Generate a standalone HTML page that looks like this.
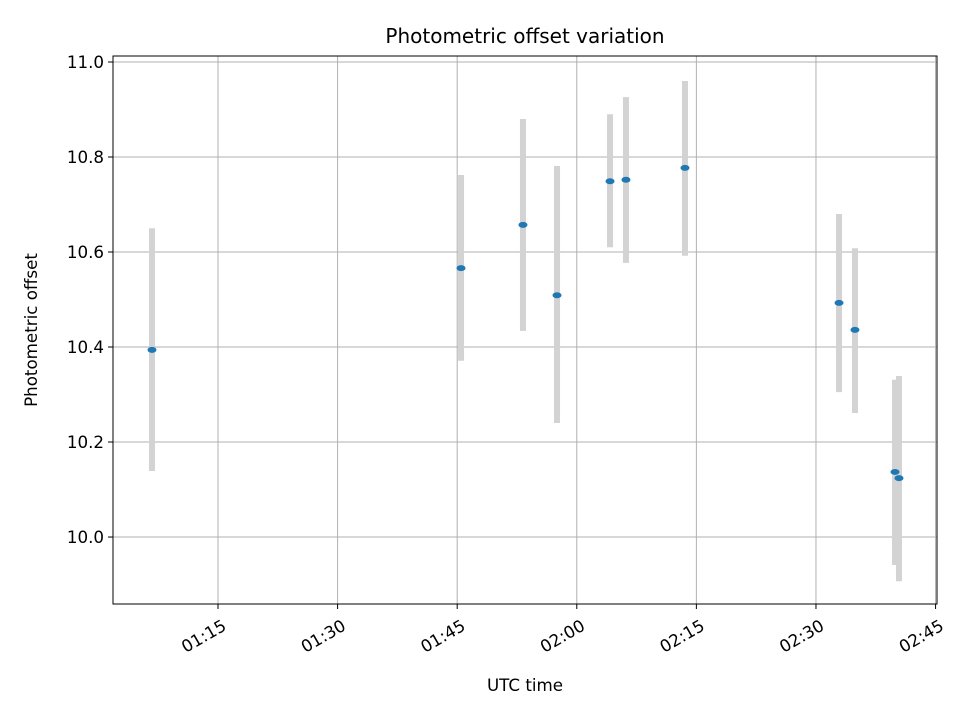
<!DOCTYPE html>
<html><head><meta charset="utf-8"><style>
body{margin:0;background:#fff;}
svg text{font-family:"DejaVu Sans","Liberation Sans",sans-serif;fill:#000;}
</style></head><body>
<svg id="chart" width="960" height="720" xmlns="http://www.w3.org/2000/svg">
<rect width="960" height="720" fill="#fff"/>
<g id="grid"></g><g id="bars"></g><g id="pts"></g><g id="axes"></g>
<text x="525" y="43" text-anchor="middle" font-size="20">Photometric offset variation</text>
<text x="525" y="691" text-anchor="middle" font-size="16.7">UTC time</text>
<text transform="translate(37,330) rotate(-90)" text-anchor="middle" font-size="16.7">Photometric offset</text>
</svg>
<script>
// minutes after 01:00 UTC
const times=[6.72,45.48,53.25,57.52,64.17,66.17,73.57,92.89,94.89,99.91,100.41];
const values=[10.394,10.566,10.657,10.509,10.749,10.752,10.777,10.493,10.436,10.137,10.124];
const lowers=[10.139,10.371,10.434,10.240,10.61,10.577,10.592,10.305,10.261,9.941,9.907];
const uppers=[10.65,10.762,10.88,10.781,10.89,10.926,10.96,10.68,10.608,10.331,10.339];
const yTicks=[10.0,10.2,10.4,10.6,10.8,11.0];
const xTicks=[15,30,45,60,75,90,105];
const xTickLabels=["01:15","01:30","01:45","02:00","02:15","02:30","02:45"];
const L=113,R=937,T=56,B=604;
const xMin=1.83,xMax=105.18,yMin=9.859,yMax=11.0126;
const X=v=>L+(v-xMin)/(xMax-xMin)*(R-L);
const Y=v=>B-(v-yMin)/(yMax-yMin)*(B-T);
const NS="http://www.w3.org/2000/svg";
function mk(p,t,a){const e=document.createElementNS(NS,t);for(const k in a)e.setAttribute(k,a[k]);p.appendChild(e);return e;}
const g=document.getElementById('grid'),ax=document.getElementById('axes'),bars=document.getElementById('bars'),pts=document.getElementById('pts');
yTicks.forEach(v=>{const y=Y(v);
const l=mk(g,'line',{x1:L,x2:R,y1:y,y2:y,stroke:'#b0b0b0','stroke-width':1});


mk(ax,'line',{x1:L-5,x2:L,y1:y,y2:y,stroke:'#000'});
const t=mk(ax,'text',{x:L-9,y:y+6,'text-anchor':'end','font-size':16.7});t.textContent=v.toFixed(1);

});
xTicks.forEach((v,i)=>{const x=X(v);
const l=mk(g,'line',{x1:x,x2:x,y1:T,y2:B,stroke:'#b0b0b0','stroke-width':1});


mk(ax,'line',{x1:x,x2:x,y1:B,y2:B+5,stroke:'#000'});
const t=mk(ax,'text',{transform:`translate(${x+3},${B+14}) rotate(-30)`,'text-anchor':'end','font-size':16.7,'dominant-baseline':'hanging'});t.textContent=xTickLabels[i];

});
const fr=mk(ax,'rect',{x:L,y:T,width:R-L,height:B-T,fill:'none',stroke:'#000','stroke-width':1});


times.forEach((t,i)=>{const x=X(t);
const b=mk(bars,'line',{x1:x,x2:x,y1:Y(lowers[i]),y2:Y(uppers[i]),stroke:'#d3d3d3','stroke-width':6});


const p=mk(pts,'ellipse',{cx:x,cy:Y(values[i]),rx:4.5,ry:3,fill:'#1f77b4'});

});
</script>
</body></html>
